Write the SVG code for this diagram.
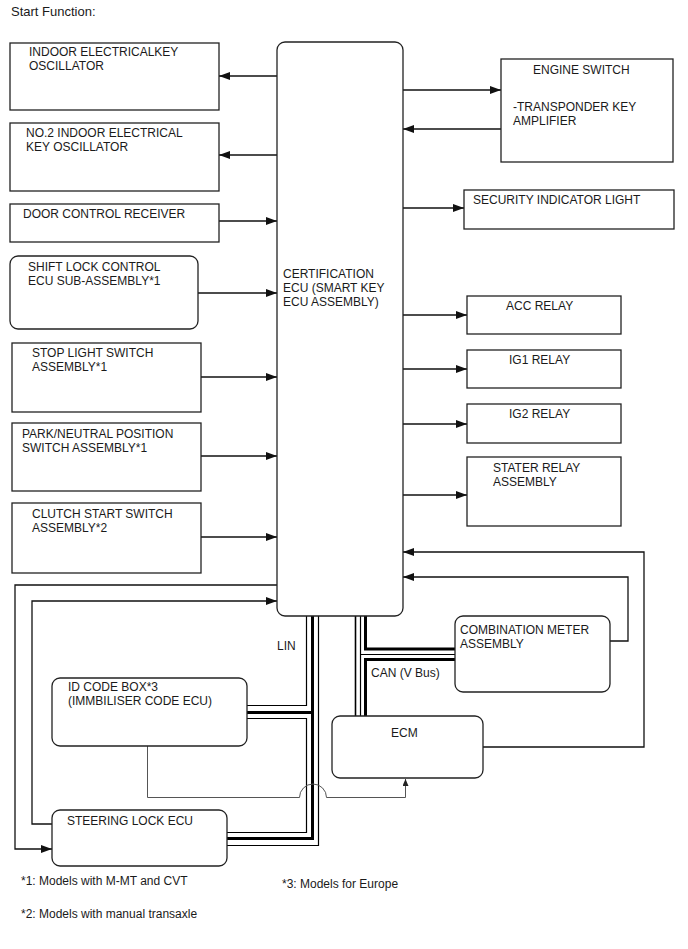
<svg xmlns="http://www.w3.org/2000/svg" width="688" height="949" viewBox="0 0 688 949">
<style>
text{font-family:"Liberation Sans",Arial,sans-serif;font-size:12px;fill:#1a1a1a}
.box{fill:#fff;stroke:#222;stroke-width:1.3}
.ca{fill:none;stroke:#111;stroke-width:1.3;marker-end:url(#ah)}
.thin{fill:none;stroke:#000;stroke-width:1.2}
.thick{fill:none;stroke:#000;stroke-width:3}
.grey{fill:none;stroke:#555;stroke-width:1;marker-end:url(#ahs)}
</style>
<defs>
<marker id="ah" markerUnits="userSpaceOnUse" markerWidth="11" markerHeight="8" refX="11" refY="4" orient="auto">
<path d="M0,0 L11,4 L0,8 z" fill="#111"/>
</marker>
<marker id="ahs" markerUnits="userSpaceOnUse" markerWidth="7" markerHeight="6" refX="7" refY="3" orient="auto">
<path d="M0,0 L7,3 L0,6 z" fill="#222"/>
</marker>
</defs>
<rect width="688" height="949" fill="#fff"/>
<text x="11" y="16" style="font-size:13px">Start Function:</text>

<g id="connectors">
<path class="ca" d="M277,76 H219"/>
<path class="ca" d="M277,155 H219"/>
<path class="ca" d="M219,221 H277"/>
<path class="ca" d="M198,293 H277"/>
<path class="ca" d="M201,377 H277"/>
<path class="ca" d="M201,456 H277"/>
<path class="ca" d="M201,537 H277"/>
<path class="ca" d="M403,90 H501"/>
<path class="ca" d="M501,129 H403"/>
<path class="ca" d="M403,208 H464"/>
<path class="ca" d="M403,315 H467"/>
<path class="ca" d="M403,369 H467"/>
<path class="ca" d="M403,424 H467"/>
<path class="ca" d="M403,495 H467"/>
<path class="ca" d="M483,747 H644 V552 H403"/>
<path class="ca" d="M610,641 H628 V577 H403"/>
<path class="ca" d="M277,585 H15 V849 H52"/>
<path class="ca" d="M52,824 H32 V601 H277"/>
<!-- LIN bus -->
<path class="thin" d="M306.5,616 V705.5 H247"/>
<path class="thick" d="M312.5,616 V838.5 H227"/>
<path class="thin" d="M318.5,616 V845.5 H227"/>
<path class="thick" d="M247,712.5 H312.5"/>
<path class="thin" d="M247,718.5 H306.5 V832.5 H227"/>
<!-- CAN bus -->
<path class="thin" d="M355.5,616 V716" style="stroke-width:1.6"/>
<path class="thin" d="M360.5,616 V716"/>
<path class="thin" d="M360.5,654.5 H455"/>
<path class="thick" d="M365.5,616 V649 H455"/>
<path class="thick" d="M455,659.5 H365.5 V716"/>
<!-- ID code box to ECM with hop -->
<path class="grey" d="M147.5,746 V797.5 H299.5 A13.5,13.5 0 0 1 326.5,797.5 H405.5 V779"/>
<text x="277" y="650">LIN</text>
<text x="371" y="677">CAN (V Bus)</text>
</g>

<g id="indoor-osc">
<rect class="box" x="10" y="43" width="209" height="67"/>
<text x="29" y="56">INDOOR ELECTRICALKEY</text>
<text x="29" y="70">OSCILLATOR</text>
</g>
<g id="no2-indoor-osc">
<rect class="box" x="10" y="123" width="209" height="68"/>
<text x="26" y="137">NO.2 INDOOR ELECTRICAL</text>
<text x="26" y="151">KEY OSCILLATOR</text>
</g>
<g id="door-control">
<rect class="box" x="10" y="204" width="209" height="38"/>
<text x="23" y="218">DOOR CONTROL RECEIVER</text>
</g>
<g id="shift-lock">
<rect class="box" x="10" y="256" width="188" height="73" rx="8"/>
<text x="28" y="271">SHIFT LOCK CONTROL</text>
<text x="28" y="285">ECU SUB-ASSEMBLY*1</text>
</g>
<g id="stop-light">
<rect class="box" x="12" y="343" width="189" height="69"/>
<text x="32" y="357">STOP LIGHT SWITCH</text>
<text x="32" y="371">ASSEMBLY*1</text>
</g>
<g id="park-neutral">
<rect class="box" x="12" y="423" width="189" height="68"/>
<text x="22" y="438">PARK/NEUTRAL POSITION</text>
<text x="22" y="452">SWITCH ASSEMBLY*1</text>
</g>
<g id="clutch-start">
<rect class="box" x="12" y="503" width="189" height="70"/>
<text x="32" y="518">CLUTCH START SWITCH</text>
<text x="32" y="532">ASSEMBLY*2</text>
</g>
<g id="certification-ecu">
<rect class="box" x="277" y="42" width="126" height="574" rx="8"/>
<text x="283" y="278">CERTIFICATION</text>
<text x="283" y="292">ECU (SMART KEY</text>
<text x="283" y="306">ECU ASSEMBLY)</text>
</g>
<g id="engine-switch">
<rect class="box" x="501" y="59" width="172" height="103"/>
<text x="533" y="74">ENGINE SWITCH</text>
<text x="513" y="111">-TRANSPONDER KEY</text>
<text x="513" y="125">AMPLIFIER</text>
</g>
<g id="security-light">
<rect class="box" x="464" y="190" width="210" height="39"/>
<text x="473" y="204">SECURITY INDICATOR LIGHT</text>
</g>
<g id="acc-relay">
<rect class="box" x="467" y="296" width="154" height="38"/>
<text x="506" y="310">ACC RELAY</text>
</g>
<g id="ig1-relay">
<rect class="box" x="467" y="350" width="154" height="38"/>
<text x="509" y="364">IG1 RELAY</text>
</g>
<g id="ig2-relay">
<rect class="box" x="467" y="404" width="154" height="39"/>
<text x="509" y="418">IG2 RELAY</text>
</g>
<g id="stater-relay">
<rect class="box" x="467" y="457" width="154" height="69"/>
<text x="493" y="472">STATER RELAY</text>
<text x="493" y="486">ASSEMBLY</text>
</g>
<g id="combination-meter">
<rect class="box" x="455" y="616" width="155" height="76" rx="8"/>
<text x="460" y="634">COMBINATION METER</text>
<text x="460" y="648">ASSEMBLY</text>
</g>
<g id="ecm">
<rect class="box" x="332" y="716" width="151" height="62" rx="8"/>
<text x="391" y="737">ECM</text>
</g>
<g id="id-code-box">
<rect class="box" x="52" y="678" width="195" height="68" rx="8"/>
<text x="68" y="691">ID CODE BOX*3</text>
<text x="68" y="705">(IMMBILISER CODE ECU)</text>
</g>
<g id="steering-lock">
<rect class="box" x="52" y="810" width="175" height="56" rx="8"/>
<text x="67" y="825">STEERING LOCK ECU</text>
</g>

<g id="notes">
<text x="21" y="885">*1: Models with M-MT and CVT</text>
<text x="282" y="888">*3: Models for Europe</text>
<text x="21" y="918">*2: Models with manual transaxle</text>
</g>
</svg>
